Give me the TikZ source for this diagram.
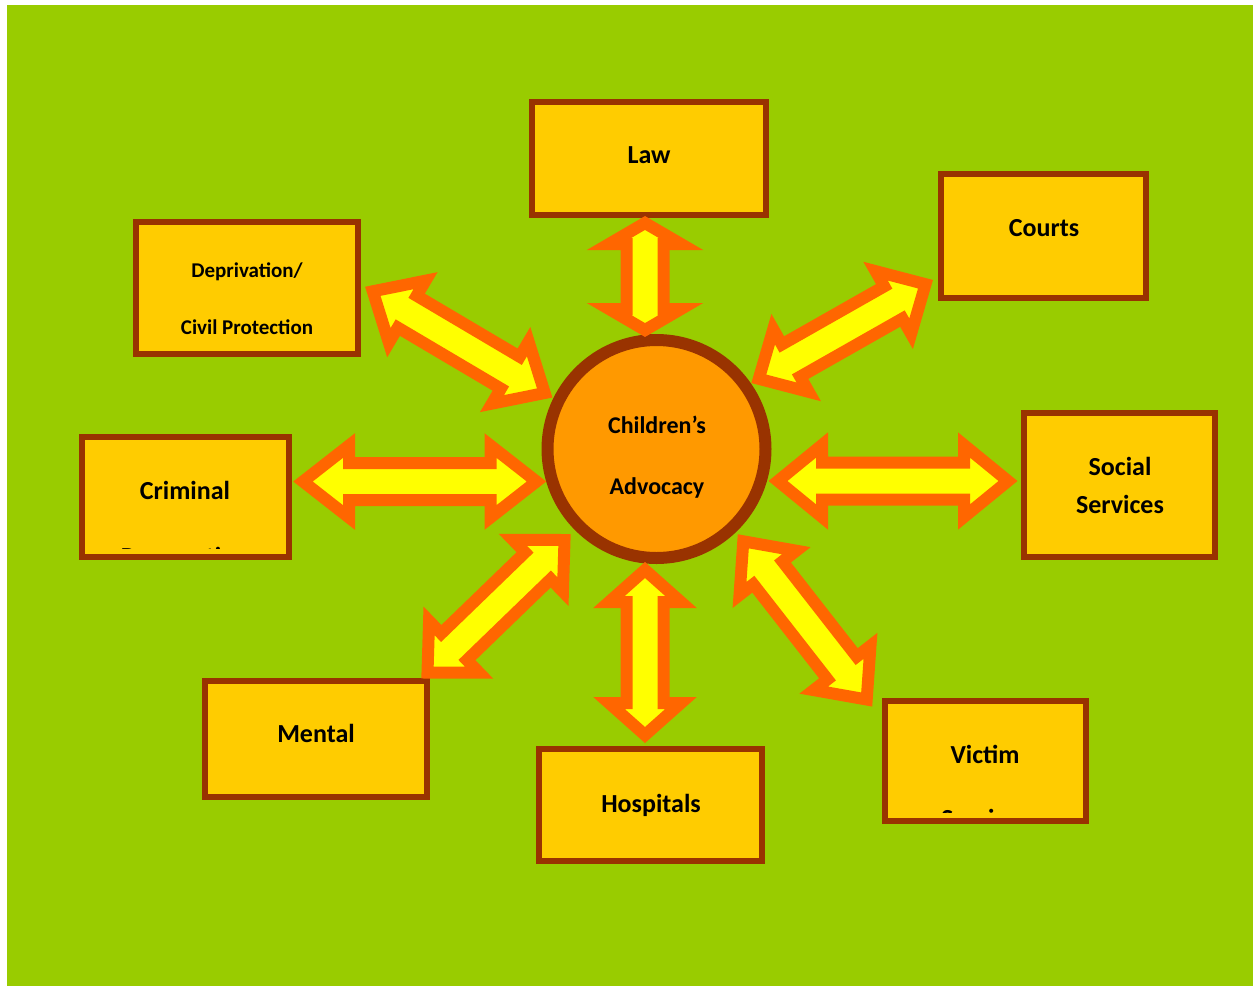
\documentclass[tikz,border=0pt]{standalone}
\usepackage{fontspec}
\setmainfont{Carlito}
\usetikzlibrary{calc}

\definecolor{bggreen}{HTML}{99CC00}
\definecolor{boxfill}{HTML}{FFCC00}
\definecolor{boxline}{HTML}{993300}
\definecolor{hubfill}{HTML}{FF9900}
\definecolor{arrowfill}{HTML}{FFFF00}
\definecolor{arrowline}{HTML}{FF6600}

% double block arrow between two named points, #3 = head length
\newcommand{\dblarrow}[3]{%
  \draw[blockarrow] (#1)
    -- ($(#1)!#3!(#2)!36pt!90:(#2)$)
    -- ($(#1)!#3!(#2)!18.5pt!90:(#2)$)
    -- ($(#2)!#3!(#1)!18.5pt!-90:(#1)$)
    -- ($(#2)!#3!(#1)!36pt!-90:(#1)$)
    -- (#2)
    -- ($(#2)!#3!(#1)!36pt!90:(#1)$)
    -- ($(#2)!#3!(#1)!18.5pt!90:(#1)$)
    -- ($(#1)!#3!(#2)!18.5pt!-90:(#2)$)
    -- ($(#1)!#3!(#2)!36pt!-90:(#2)$)
    -- cycle;}

\begin{document}
\begin{tikzpicture}[
        x=1pt, y=-1pt,
        box/.style={draw=boxline, line width=6pt, fill=boxfill, inner sep=0pt},
        boxlabel/.style={anchor=base, inner sep=0pt, font=\bfseries\fontsize{26}{30}\selectfont},
        smalllabel/.style={boxlabel, font=\bfseries\fontsize{21}{25}\selectfont},
        hublabel/.style={boxlabel, font=\bfseries\fontsize{24}{28}\selectfont},
        blockarrow/.style={draw=arrowline, fill=arrowfill, line width=12pt, line join=miter, miter limit=10}
    ]

        \useasboundingbox (0,0) rectangle (1253,986);
        \fill[bggreen] (7,5) rectangle (1253,986);

        % boxes
        \node[box, minimum width=234pt, minimum height=113pt] (law) at (649,158.5) {};
        \node[box, minimum width=205pt, minimum height=124pt] (courts) at (1043.5,236) {};
        \node[box, minimum width=222pt, minimum height=132pt] (depr) at (247,288) {};
        \node[box, minimum width=207pt, minimum height=120pt] (crim) at (185,497) {};
        \node[box, minimum width=191pt, minimum height=144pt] (social) at (1119.5,485) {};
        \node[box, minimum width=222pt, minimum height=116pt] (mental) at (316,739) {};
        \node[box, minimum width=223pt, minimum height=112pt] (hosp) at (650.5,805) {};
        \node[box, minimum width=201pt, minimum height=120pt] (victim) at (985.5,761) {};

        % centre
        \node[circle, draw=boxline, line width=12pt, fill=hubfill, minimum size=218pt, inner sep=0pt] (hub) at (656.5,449) {};

        % arrow ends
        \coordinate (law-out) at (645,223);
        \coordinate (law-in) at (645,330);
        \coordinate (hosp-in) at (645,570);
        \coordinate (hosp-out) at (645,735);
        \coordinate (crim-out) at (303,481.5);
        \coordinate (crim-in) at (536.5,481.5);
        \coordinate (social-in) at (778,481);
        \coordinate (social-out) at (1008,481);
        \coordinate (depr-out) at (372.8,291.3);
        \coordinate (depr-in) at (544.7,393);
        \coordinate (courts-out) at (925.5,284.2);
        \coordinate (courts-in) at (758.8,378.8);
        \coordinate (mental-in) at (564.5,540);
        \coordinate (mental-out) at (427.5,672.5);
        \coordinate (victim-in) at (743.3,541.3);
        \coordinate (victim-out) at (866.7,699.5);

        \dblarrow{law-out}{law-in}{21pt}
        \dblarrow{hosp-in}{hosp-out}{32pt}
        \dblarrow{crim-out}{crim-in}{46pt}
        \dblarrow{social-in}{social-out}{44pt}
        \dblarrow{depr-out}{depr-in}{40pt}
        \dblarrow{courts-out}{courts-in}{37pt}
        \dblarrow{mental-in}{mental-out}{37pt}
        \dblarrow{victim-in}{victim-out}{40pt}

        % texts
        \node[hublabel] (hub-l1) at (657,433) {Children’s};
        \node[hublabel] (hub-l2) at (657,494) {Advocacy};
        \node[boxlabel] (law-l) at (649,163) {Law};
        \node[boxlabel] (courts-l) at (1044,236.5) {Courts};
        \node[smalllabel] (depr-l1) at (247,277.5) {Deprivation/};
        \node[smalllabel] (depr-l2) at (247,334.5) {Civil Protection};
        \node[boxlabel] (crim-l1) at (185,499) {Criminal};
        \node[boxlabel] (social-l1) at (1120,475.5) {Social};
        \node[boxlabel] (social-l2) at (1120,513.5) {Services};
        \node[boxlabel] (mental-l) at (316,742.5) {Mental};
        \node[boxlabel] (hosp-l) at (651,812.5) {Hospitals};
        \node[boxlabel] (victim-l1) at (985,763) {Victim};

        % second lines cut off by their boxes
        \begin{scope}
            \clip ($(crim.south west)+(12,-12)$) rectangle ($(crim.north east)+(-12,12)$);
            \node[boxlabel] (crim-l2) at (185,565) {Prosecution};
        \end{scope}
        \begin{scope}
            \clip ($(victim.south west)+(12,-12)$) rectangle ($(victim.north east)+(-12,12)$);
            \node[boxlabel] (victim-l2) at (985,827) {Services};
        \end{scope}

    \end{tikzpicture}
\end{document}
